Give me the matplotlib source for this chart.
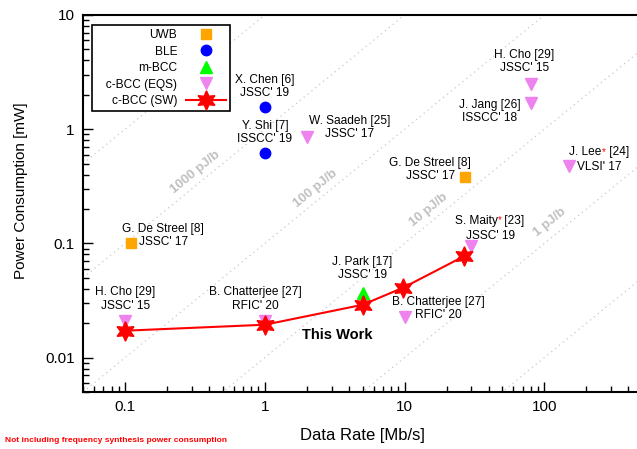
import numpy as np
import matplotlib.pyplot as plt

plt.rcParams['font.family'] = ['Liberation Sans', 'DejaVu Sans']

# data (Data Rate [Mb/s], Power [mW])
uwb_x = [0.11, 27]
uwb_y = [0.1, 0.38]
ble_x = [1.0, 1.0]
ble_y = [1.55, 0.62]
mbcc_x = [5.0]
mbcc_y = [0.037]
eqs_x = [0.1, 1.0, 2.0, 80, 80, 150, 30, 10]
eqs_y = [0.021, 0.021, 0.85, 2.5, 1.68, 0.48, 0.094, 0.0225]
sw_x = [0.1, 1.0, 5.0, 9.8, 26.5]
sw_y = [0.0172, 0.0194, 0.029, 0.041, 0.077]

# energy-per-bit guide lines (pJ/b)
epb = [10000, 1000, 100, 10, 1, 0.1]
epb_lbl = ['1000 pJ/b', '100 pJ/b', '10 pJ/b', '1 pJ/b']
epb_lbl_x = [0.32, 2.3, 14.8, 110]
epb_lbl_y = [0.42, 0.30, 0.198, 0.152]

# centered two-line labels
lbl_txt = ["X. Chen [6]\nJSSC' 19", "Y. Shi [7]\nISSCC' 19", "W. Saadeh [25]\nJSSC' 17",
           "H. Cho [29]\nJSSC' 15", "J. Jang [26]\nISSCC' 18", "G. De Streel [8]\nJSSC' 17",
           "G. De Streel [8]\nJSSC' 17", "H. Cho [29]\nJSSC' 15", "B. Chatterjee [27]\nRFIC' 20",
           "J. Park [17]\nJSSC' 19", "B. Chatterjee [27]\nRFIC' 20"]
lbl_x = [1.0, 1.0, 4.05, 72, 40.5, 15.3, 0.187, 0.1, 0.85, 5.0, 17.5]
lbl_y = [2.37, 0.94, 1.04, 3.9, 1.44, 0.44, 0.117, 0.0326, 0.0326, 0.0607, 0.0267]

FS = 8.6

fig = plt.figure(figsize=(6.37, 4.49), dpi=100)
ax = fig.add_axes([0.1303, 0.127, 0.8776, 0.8396])

xs = np.array([0.05, 500])
for e in epb:
    ax.plot(xs, e * xs * 1e-3, ls=(0, (1, 3)), color='#c8c8c8', lw=0.9, zorder=1)
for t, x, y in zip(epb_lbl, epb_lbl_x, epb_lbl_y):
    ax.text(x, y, t, rotation=39.4, ha='center', va='center', fontsize=9.5,
            fontweight='bold', color='#c0c0c0', zorder=2,
            bbox=dict(facecolor='white', edgecolor='none', pad=0.5))

ax.plot(uwb_x, uwb_y, ls='none', marker='s', ms=7.5, color='#ffa500', label='UWB', zorder=5)
ax.plot(ble_x, ble_y, ls='none', marker='o', ms=7.5, color='#0000ff', label='BLE', zorder=5)
ax.plot(mbcc_x, mbcc_y, ls='none', marker='^', ms=9, color='#00ff00', label='m-BCC', zorder=5)
ax.plot(eqs_x, eqs_y, ls='none', marker='v', ms=9, color='#ee82ee',
        label='   c-BCC (EQS)', zorder=5)
ax.plot(sw_x, sw_y, color='#ff0000', lw=1.5, marker=(6, 1, 0), ms=14, label='c-BCC (SW)', zorder=6)

for t, x, y in zip(lbl_txt, lbl_x, lbl_y):
    ax.text(x, y, t, ha='center', va='center', fontsize=FS, linespacing=1.12, zorder=7)

# labels with red asterisk
def star_label(x, y, a, b):
    t1 = ax.text(x, y, a, ha='left', va='center', fontsize=FS, zorder=7)
    t2 = ax.annotate('*', xy=(1, 0.95), xycoords=t1, ha='left', va='top',
                     fontsize=7, color='red', zorder=7)
    ax.annotate(b, xy=(1, 0.5), xycoords=(t2, t1), ha='left', va='center',
                fontsize=FS, zorder=7)

star_label(22.8, 0.158, 'S. Maity', ' [23]')
ax.text(41.1, 0.117, "JSSC' 19", ha='center', va='center', fontsize=FS, zorder=7)
star_label(151, 0.63, 'J. Lee', ' [24]')
ax.text(172, 0.468, "VLSI' 17", ha='left', va='center', fontsize=FS, zorder=7)

ax.text(3.32, 0.0158, 'This Work', ha='center', va='center', fontsize=10.5,
        fontweight='bold', zorder=7)

ax.set_xscale('log')
ax.set_yscale('log')
ax.set_xlim(0.05, 500)
ax.set_ylim(0.005, 10)
ax.set_xticks([0.1, 1, 10, 100])
ax.set_xticklabels(['0.1', '1', '10', '100'])
ax.set_yticks([0.01, 0.1, 1, 10])
ax.set_yticklabels(['0.01', '0.1', '1', '10'])
ax.tick_params(which='both', direction='in', top=False, right=False, labelsize=11, width=1)
ax.tick_params(which='major', length=7, pad=6)
ax.tick_params(which='minor', length=4)
ax.spines['right'].set_visible(False)
for s in ['left', 'bottom', 'top']:
    ax.spines[s].set_linewidth(1.5)

ax.set_xlabel('Data Rate [Mb/s]', fontsize=12, labelpad=10)
ax.set_ylabel('Power Consumption [mW]', fontsize=11)
ax.yaxis.set_label_coords(-0.098, 0.533)

leg = ax.legend(loc='upper left', bbox_to_anchor=(0.016, 0.974), borderaxespad=0,
                markerfirst=False, fontsize=FS, handlelength=3.3, handletextpad=0.75,
                labelspacing=0.38, fancybox=False, edgecolor='black', framealpha=1,
                borderpad=0.35)
leg.get_frame().set_linewidth(1.2)
for t in leg.get_texts():
    t.set_ha('right')

fig.text(0.008, 0.02, 'Not including frequency synthesis power consumption', color='red',
         fontsize=6, fontweight='bold', ha='left', va='center')

fig.savefig('out.png', dpi=100)
